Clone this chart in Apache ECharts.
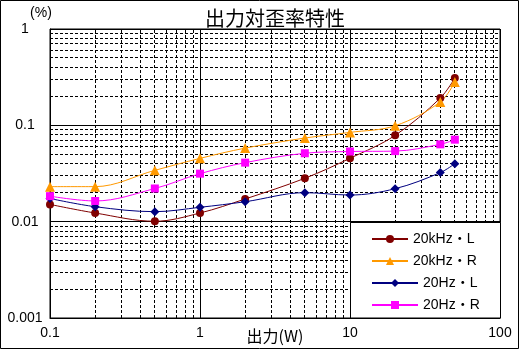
<!DOCTYPE html>
<html><head><meta charset="utf-8">
<script src="https://cdn.jsdelivr.net/npm/echarts@6/dist/echarts.min.js"></script>
<style>html,body{margin:0;padding:0;background:#fff}#c{width:520px;height:350px}</style>
</head><body><div id="c"></div>
<script>
// Data
var powerW = [0.1, 0.2, 0.5, 1, 2, 5, 10, 20, 40, 50];
var kHz20L = [0.0151, 0.0123, 0.0101, 0.0123, 0.0172, 0.0282, 0.0455, 0.0787, 0.192, 0.31];
var kHz20R = [0.0231, 0.0231, 0.0341, 0.0454, 0.058, 0.0738, 0.0845, 0.099, 0.175, 0.282];
var hz20L  = [0.0174, 0.0143, 0.0127, 0.0141, 0.0161, 0.020, 0.0189, 0.022, 0.0323, 0.040];
var hz20R  = [0.0184, 0.0164, 0.0221, 0.0315, 0.041, 0.0513, 0.0535, 0.054, 0.0635, 0.071];
var seriesNames = ['20kHz・L', '20kHz・R', '20Hz・L', '20Hz・R'];
var xTickLabels = ['0.1', '1', '10', '100'];
var yTickLabels = ['0.001', '0.01', '0.1', '1'];
var titleText = '出力対歪率特性';
var xName = '出力(W)';
var yName = '(%)';

var X_MIN = 0.1, X_MAX = 100, Y_MIN = 0.001, Y_MAX = 1;

function pairs(ys) { return powerW.map(function (x, i) { return [x, ys[i]]; }); }
function minorVals(lo, hi) {
  var out = [];
  for (var e = Math.round(Math.log10(lo)); e < Math.round(Math.log10(hi)); e++) {
    for (var k = 2; k <= 9; k++) out.push(+(k * Math.pow(10, e)).toPrecision(3));
  }
  return out;
}
function fmt(labels) {
  return function (v) {
    for (var i = 0; i < labels.length; i++) {
      if (Math.abs(Math.log10(v) - Math.log10(+labels[i])) < 1e-6) return labels[i];
    }
    return '';
  };
}
var xMinor = minorVals(X_MIN, X_MAX);
var yMinor = minorVals(Y_MIN, Y_MAX);

var colors = ['#800000', '#FF9900', '#000080', '#FF00FF'];
var symbols = ['circle', 'triangle', 'diamond', 'rect'];
var sizes = [8, 10, 9, 8];
var dataSets = [kHz20L, kHz20R, hz20L, hz20R];

function crisp(v) { return Math.round(v - 0.5) + 0.5; }
var dashStyle = { stroke: '#000', lineWidth: 1, lineDash: [3, 2], fill: null };

var chart = echarts.init(document.getElementById('c'), null, { renderer: 'canvas' });
var series = [{
  name: 'minor-x', type: 'custom', z: 1, silent: true, animation: false,
  data: xMinor.map(function (v) { return [v, Y_MIN]; }),
  renderItem: function (params, api) {
    var v = api.value(0);
    var a = api.coord([v, Y_MIN]), b = api.coord([v, Y_MAX]);
    var x = crisp(a[0]);
    return { type: 'line', shape: { x1: x, y1: a[1], x2: x, y2: b[1] }, style: dashStyle };
  }
}, {
  name: 'minor-y', type: 'custom', z: 1, silent: true, animation: false,
  data: yMinor.map(function (v) { return [X_MIN, v]; }),
  renderItem: function (params, api) {
    var v = api.value(1);
    var a = api.coord([X_MIN, v]), b = api.coord([X_MAX, v]);
    var y = crisp(a[1]);
    return { type: 'line', shape: { x1: a[0], y1: y, x2: b[0], y2: y }, style: dashStyle };
  }
}];
dataSets.forEach(function (ys, i) {
  series.push({
    name: seriesNames[i], type: 'line', data: pairs(ys), smooth: 0.35,
    symbol: symbols[i], symbolSize: sizes[i], z: 3,
    itemStyle: { color: colors[i] },
    lineStyle: { color: colors[i], width: 1 },
    animation: false
  });
});

var font = '"Liberation Sans", Arial, "Noto Sans CJK JP", sans-serif';
var option = {
  animation: false,
  backgroundColor: '#fff',
  textStyle: { fontFamily: font },
  title: {
    text: titleText, left: 270, top: 3, textAlign: 'center',
    textStyle: { fontFamily: '"Noto Sans CJK JP", sans-serif', fontSize: 20, fontWeight: 'normal', color: '#000' }
  },
  grid: { left: 50, top: 29, width: 450, height: 289, show: true, borderColor: '#000', borderWidth: 1, containLabel: false, outerBoundsMode: 'none' },
  xAxis: {
    type: 'log', logBase: 10, min: X_MIN, max: X_MAX, interval: 1,
    name: xName, nameLocation: 'middle', nameGap: 18, nameMoveOverlap: false,
    nameTextStyle: { fontFamily: '"Noto Sans CJK JP", sans-serif', fontSize: 16, color: '#000', verticalAlign: 'middle' },
    axisLine: { lineStyle: { color: '#000' } },
    axisTick: { show: false },
    axisLabel: { color: '#000', fontSize: 14, margin: 8, formatter: fmt(xTickLabels) },
    splitLine: { show: true, lineStyle: { color: '#000', width: 1, type: 'solid' } }
  },
  yAxis: {
    type: 'log', logBase: 10, min: Y_MIN, max: Y_MAX, interval: 1,
    name: yName, nameLocation: 'end', nameGap: 9, nameMoveOverlap: false,
    nameTextStyle: { fontSize: 14, color: '#000', align: 'center', padding: [0, 18, 0, 0] },
    axisLine: { show: true, lineStyle: { color: '#000' } },
    axisTick: { show: false },
    axisLabel: { color: '#000', fontSize: 14, margin: 25, align: 'center', formatter: fmt(yTickLabels) },
    splitLine: { show: true, lineStyle: { color: '#000', width: 1, type: 'solid' } }
  },
  graphic: [
    { type: 'rect', z: 50, shape: { x: 350.5, y: 222.5, width: 150, height: 95.5 },
      style: { fill: '#fff', stroke: '#000', lineWidth: 1 } },
    { type: 'rect', z: 50, shape: { x: 0.5, y: 0.5, width: 518, height: 348 },
      style: { fill: 'none', stroke: '#000', lineWidth: 1 } }
  ],
  legend: [{
    data: seriesNames.slice(0, 2), orient: 'vertical', left: 366, top: 227, z: 60,
    itemWidth: 36, itemHeight: 10, itemGap: 8, selectedMode: false,
    textStyle: { fontSize: 14, color: '#000', fontFamily: font, lineHeight: 14 }
  }, {
    data: seriesNames.slice(2, 4), orient: 'vertical', left: 366, top: 271, z: 60,
    itemWidth: 46, itemHeight: 10, itemGap: 8, selectedMode: false,
    textStyle: { fontSize: 14, color: '#000', fontFamily: font, lineHeight: 14 }
  }],
  series: series
};
chart.setOption(option);
</script>
</body></html>
